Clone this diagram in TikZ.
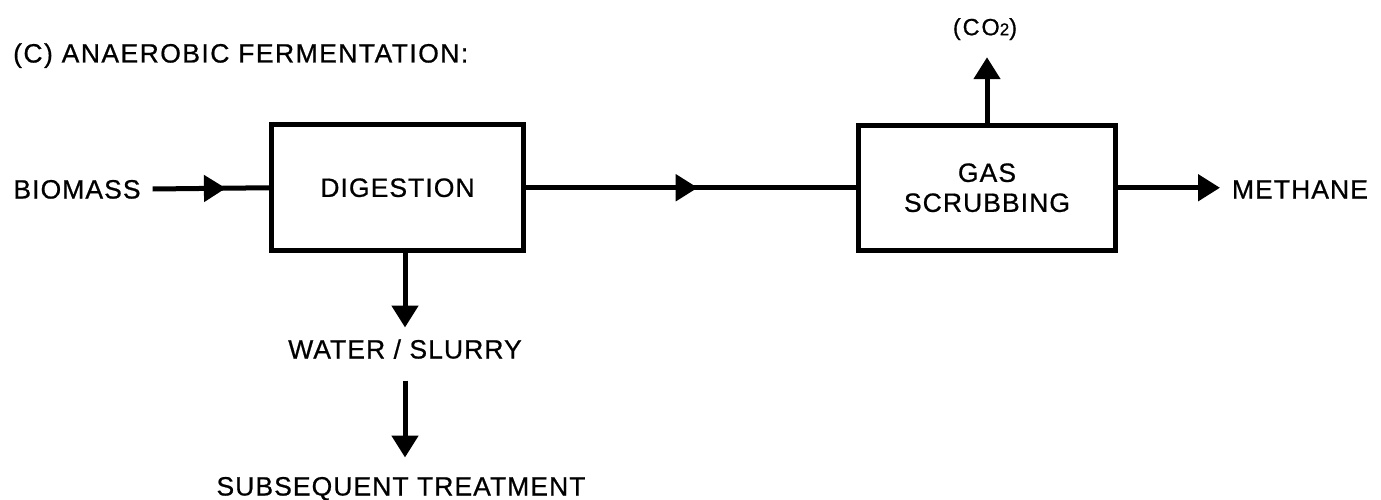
\documentclass[tikz,border=0pt]{standalone}
\usepackage{fontspec}
\setmainfont{Liberation Sans}
\newfontfamily\lblfont[LetterSpace=4,FakeBold=0.7]{Liberation Sans}
\newfontfamily\titlefont[LetterSpace=5.5,FakeBold=0.7]{Liberation Sans}
\newfontfamily\cofont[LetterSpace=8,FakeBold=0.7]{Liberation Sans}
\usetikzlibrary{arrows.meta,decorations.markings}
\tikzset{
  lbl/.style={font=\lblfont\fontsize{26.5}{30}\selectfont, inner sep=0pt, outer sep=12pt,
    text height=19pt, text depth=0pt},
  blk/.style={draw, line width=5pt, inner sep=0pt, align=center,
    font=\lblfont\fontsize{26.5}{30}\selectfont},
  flow/.style={line width=5pt},
  tipA/.style={-{Triangle[length=22pt,width=26pt]}},
  midtip/.style={postaction={decorate}, decoration={markings,
    mark=at position #1 with {\arrow{Triangle[length=22pt,width=26pt]}}}}
}
\begin{document}
\begin{tikzpicture}[x=1pt,y=-1pt]
\useasboundingbox (0,0) rectangle (1381,500);
% title
\node[font=\titlefont\fontsize{26.5}{30}\selectfont, inner sep=0pt, anchor=west,
  text height=19pt, text depth=0pt] (title) at (13,53) {(C) ANAEROBIC FERMENTATION:};
% boxes
\node[blk, minimum width=252pt, minimum height=125.5pt] (dig) at (397.5,187.75) {DIGESTION};
\node[blk, minimum width=256.5pt, minimum height=124.5pt] (gas) at (987,187.75) {GAS\\SCRUBBING};
% labels
\node[lbl] (bio) at (77,189) {BIOMASS};
\node[lbl, anchor=west] (meth) at (1220,189) {METHANE};
\node[font=\cofont\fontsize{23.5}{26}\selectfont, inner sep=0pt, outer sep=0pt,
  text height=16.5pt, text depth=0pt] (co2) at (985,27) {(CO{\fontsize{17}{17}\selectfont 2})};
\node[lbl] (water) at (405,349) {WATER / SLURRY};
\node[lbl] (sub) at (401,486) {SUBSEQUENT TREATMENT};
% connectors
\draw[flow, midtip=0.63] (bio.east) -- (dig.west);
\draw[flow, midtip=0.52] (dig.east) -- (gas.west);
\draw[flow, tipA] (gas.east) -- (gas.east -| meth.west);
\draw[flow, tipA, shorten >=22pt] (gas.north) -- (gas.north |- co2.south);
\draw[flow, tipA] (dig.south -| water.north) -- (water.north);
\draw[flow, tipA, shorten <=10pt, shorten >=7pt] (water.south) -- (water.south |- sub.north);
\end{tikzpicture}
\end{document}
